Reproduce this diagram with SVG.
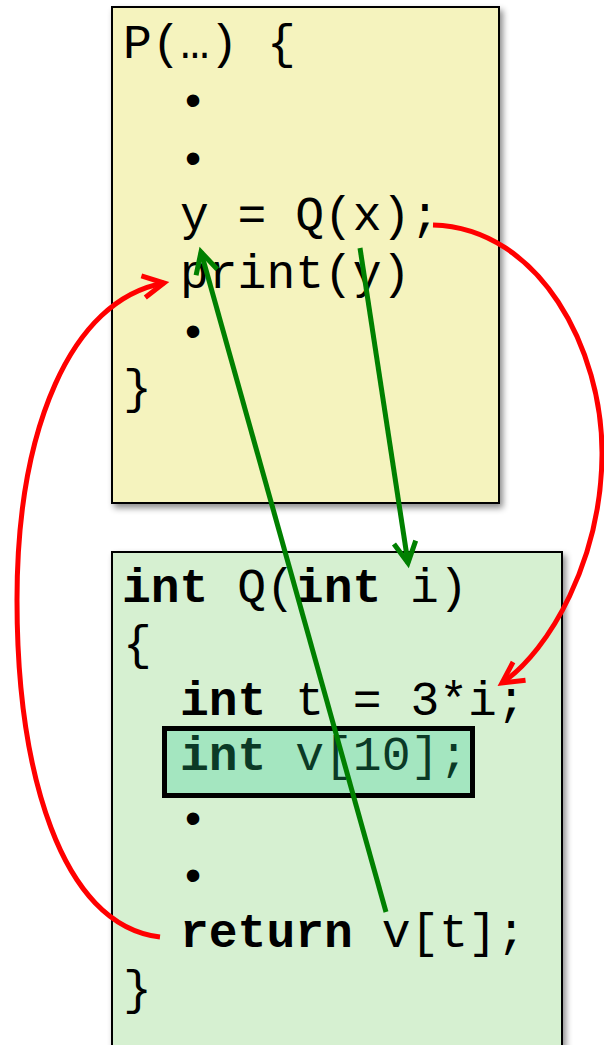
<svg xmlns="http://www.w3.org/2000/svg" width="604" height="1045" viewBox="0 0 604 1045">
<style>
.code{font-family:"Liberation Mono","Courier New",monospace;font-size:48px;fill:#000}
.b{font-weight:bold}
.bul{font-family:"Liberation Sans",Arial,sans-serif;font-size:46px;fill:#000;text-anchor:middle}
.box{stroke:#000;stroke-width:2}
.g{fill:none;stroke:#008000;stroke-width:5}
.r{fill:none;stroke:#ff0000;stroke-width:5}
</style>
<defs>
<filter id="sh" x="-10%" y="-10%" width="130%" height="130%">
<feDropShadow dx="3" dy="4" stdDeviation="3" flood-color="#000" flood-opacity="0.45"/>
</filter>
<marker id="ag" markerUnits="userSpaceOnUse" markerWidth="40" markerHeight="40" viewBox="-30 -20 40 40" refX="0" refY="0" orient="auto">
<path d="M-21,-11 L0,0 L-21,11" fill="none" stroke="#008000" stroke-width="5"/>
</marker>
<marker id="ar" markerUnits="userSpaceOnUse" markerWidth="40" markerHeight="40" viewBox="-30 -20 40 40" refX="0" refY="0" orient="auto">
<path d="M-21,-11 L0,0 L-21,11" fill="none" stroke="#ff0000" stroke-width="5"/>
</marker>
</defs>
<g id="P">
<rect class="box" x="112" y="7" width="387" height="496" fill="#f5f3be" filter="url(#sh)"/>
<text class="code" x="123" y="58" xml:space="preserve">P(…) {</text>
<text class="bul" x="193" y="116">•</text>
<text class="bul" x="193" y="174">•</text>
<text class="code" x="180" y="230" xml:space="preserve">y = Q(x);</text>
<text class="code" x="180" y="288">print(y)</text>
<text class="bul" x="193" y="347">•</text>
<text class="code" x="123" y="403">}</text>
</g>
<g id="Q">
<rect class="box" x="112" y="552" width="450" height="510" fill="#d6f0d1" filter="url(#sh)"/>
<text class="code" x="122" y="602" xml:space="preserve"><tspan class="b">int</tspan> Q(<tspan class="b">int</tspan> i)</text>
<text class="code" x="123" y="659">{</text>
<text class="code" x="180" y="715" xml:space="preserve"><tspan class="b">int</tspan> t = 3*i;</text>
<g id="hl">
<rect x="164.5" y="728.5" width="308" height="67" fill="#a4e6c0" stroke="#000" stroke-width="5"/>
<text class="code" x="180" y="770" style="fill:#0b3a26" xml:space="preserve"><tspan class="b">int</tspan> v[10];</text>
</g>
<text class="bul" x="193" y="834">•</text>
<text class="bul" x="193" y="891">•</text>
<text class="code" x="180" y="947" xml:space="preserve"><tspan class="b">return</tspan> v[t];</text>
<text class="code" x="123" y="1004">}</text>
</g>
<g id="connectors">
<path class="g" d="M360,248 L408,563" marker-end="url(#ag)"/>
<path class="g" d="M386,912 L201,252" marker-end="url(#ag)"/>
<path class="r" d="M433,225 C540,228 603,350 602,455 C601,560 550,650 502,683" marker-end="url(#ar)"/>
<path class="r" d="M160,937 C60,925 17,770 17,600 C17,430 70,300 164,283" marker-end="url(#ar)"/>
</g>
</svg>
